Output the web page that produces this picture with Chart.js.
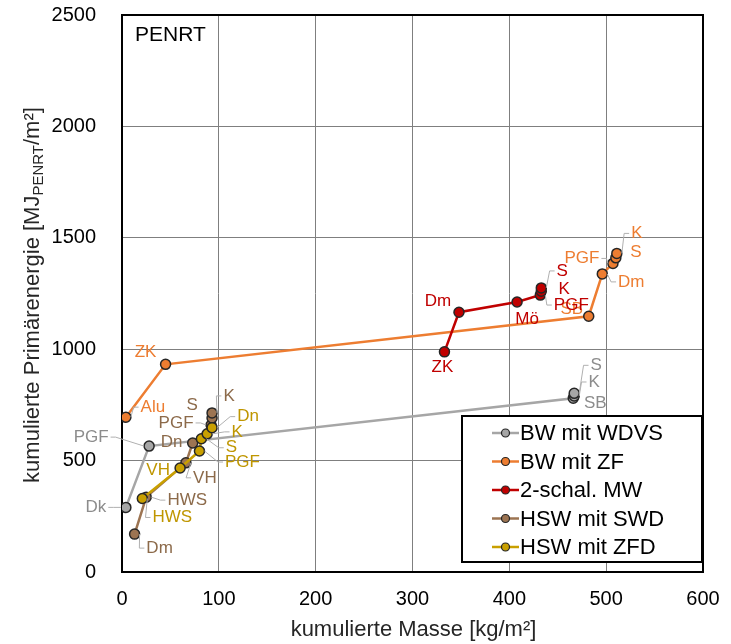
<!DOCTYPE html>
<html>
<head>
<meta charset="utf-8">
<script src="https://cdn.jsdelivr.net/npm/chart.js@4.4.0/dist/chart.umd.min.js"></script>
<style>
  body { margin: 0; background: #fff; }
  canvas { display: block; }
</style>
</head>
<body>
<canvas id="chart" width="731" height="644"></canvas>
<script>
// series names (legend order)
const seriesNames = ["BW mit WDVS", "BW mit ZF", "2-schal. MW", "HSW mit SWD", "HSW mit ZFD"];

// BW mit WDVS
const wdvsMass   = [4, 28, 466, 467, 467];
const wdvsEnergy = [290, 565, 780, 790, 802];
const wdvsLabels = ["Dk", "PGF", "SB", "K", "S"];

// BW mit ZF
const zfMass   = [4, 45, 482, 496, 507, 510, 511];
const zfEnergy = [695, 932, 1148, 1338, 1385, 1410, 1430];
const zfLabels = ["Alu", "ZK", "SB", "Dm", "PGF", "S", "K"];

// 2-schal. MW
const mwMass   = [333, 348, 408, 432, 433, 433];
const mwEnergy = [988, 1166, 1212, 1243, 1260, 1275];
const mwLabels = ["ZK", "Dm", "Mö", "PGF", "K", "S"];

// HSW mit SWD
const swdMass   = [13, 25, 66, 73, 92, 93, 93];
const swdEnergy = [170, 336, 490, 579, 660, 691, 714];
const swdLabels = ["Dm", "HWS", "VH", "Dn", "PGF", "S", "K"];

// HSW mit ZFD
const zfdMass   = [21, 60, 80, 82, 88, 93];
const zfdEnergy = [330, 467, 543, 598, 620, 648];
const zfdLabels = ["HWS", "VH", "PGF", "S", "K", "Dn"];

// axis ticks
const massTicks = [0, 100, 200, 300, 400, 500, 600];
const energyTicks = [0, 500, 1000, 1500, 2000, 2500];

// styling
const lineColors  = ["#a6a6a6", "#ed7d31", "#c00000", "#9c7452", "#c9a000"];
const pointColors = ["#a6a6a6", "#ed7d31", "#c00000", "#9c7452", "#c9a000"];
const textColors  = ["#8c8c8c", "#ed7d31", "#c00000", "#8c6a4a", "#bf9600"];

// label offsets in px from the point (text centre)
const labelOffsets = [
  [[-30, 0], [-58, -9], [22, 5], [20, -14], [22, -28]],
  [[27, -10], [-20, -12], [-17, -7], [29, 8], [-31, -5], [20, -6], [20, -20]],
  [[-2, 15], [-21, -11], [10, 17], [31, 10], [23, -2], [21, -17]],
  [[25, 14], [41, 3], [19, 15], [-21, -1], [-35, -2], [-20, -13], [17, -17]],
  [[30, 19], [-22, 2], [43, 11], [30, 9], [30, -2], [36, -11]]
];

const FONT = "'Liberation Sans', Arial, sans-serif";

const masses = [wdvsMass, zfMass, mwMass, swdMass, zfdMass];
const energies = [wdvsEnergy, zfEnergy, mwEnergy, swdEnergy, zfdEnergy];
const pointLabels = [wdvsLabels, zfLabels, mwLabels, swdLabels, zfdLabels];

const datasets = seriesNames.map((name, i) => ({
  label: name,
  data: masses[i].map((m, j) => ({ x: m, y: energies[i][j] })),
  showLine: true,
  borderColor: lineColors[i],
  borderWidth: 2.5,
  backgroundColor: pointColors[i],
  pointBackgroundColor: pointColors[i],
  pointBorderColor: "#262626",
  pointBorderWidth: 1.5,
  pointRadius: 5,
  order: 5 - i
}));

const framePlugin = {
  id: "frame",
  beforeDatasetsDraw(chart) {
    const { ctx, chartArea: a } = chart;
    ctx.save();
    ctx.strokeStyle = "#000";
    ctx.lineWidth = 2;
    ctx.strokeRect(a.left, a.top, a.right - a.left, a.bottom - a.top);
    ctx.restore();
  }
};

const labelPlugin = {
  id: "pointLabels",
  afterDatasetsDraw(chart) {
    const ctx = chart.ctx;
    ctx.save();
    ctx.font = "17px " + FONT;
    ctx.textAlign = "center";
    ctx.textBaseline = "middle";
    seriesNames.forEach((_, i) => {
      const meta = chart.getDatasetMeta(i);
      meta.data.forEach((pt, j) => {
        const [dx, dy] = labelOffsets[i][j];
        const tx = pt.x + dx, ty = pt.y + dy;
        const text = pointLabels[i][j];
        const w = ctx.measureText(text).width;
        if (Math.hypot(dx, dy) > 24) {
          // leader line
          const side = dx >= 0 ? tx - w / 2 - 2 : tx + w / 2 + 2;
          const knee = dx >= 0 ? side - 5 : side + 5;
          ctx.strokeStyle = "#b0b0b0";
          ctx.lineWidth = 1;
          ctx.beginPath();
          ctx.moveTo(side, ty);
          ctx.lineTo(knee, ty);
          ctx.lineTo(pt.x + Math.sign(dx) * 5, pt.y);
          ctx.stroke();
        }
        ctx.fillStyle = textColors[i];
        ctx.fillText(text, tx, ty);
      });
    });
    ctx.restore();
  }
};

const decorPlugin = {
  id: "decor",
  afterDraw(chart) {
    const { ctx, chartArea: a } = chart;
    ctx.save();
    // panel tag
    ctx.fillStyle = "#000";
    ctx.font = "21px " + FONT;
    ctx.textAlign = "left";
    ctx.textBaseline = "middle";
    ctx.fillText("PENRT", a.left + 13, a.top + 20);

    // x title
    ctx.fillStyle = "#262626";
    ctx.font = "22px " + FONT;
    ctx.textAlign = "center";
    ctx.fillText("kumulierte Masse [kg/m²]", (a.left + a.right) / 2 + 1, 630);

    // y title with subscript
    ctx.translate(33, 295);
    ctx.rotate(-Math.PI / 2);
    const parts = [["kumulierte Primärenergie [MJ", 22, 0], ["PENRT", 15, 6], ["/m²]", 22, 0]];
    let total = 0;
    parts.forEach(p => { ctx.font = p[1] + "px " + FONT; total += ctx.measureText(p[0]).width; });
    let x = -total / 2;
    ctx.textAlign = "left";
    parts.forEach(p => {
      ctx.font = p[1] + "px " + FONT;
      ctx.fillText(p[0], x, p[2]);
      x += ctx.measureText(p[0]).width;
    });
    ctx.restore();

    // legend box
    ctx.save();
    const bx = 462, by = 416, bw = 240, bh = 146;
    ctx.fillStyle = "#fff";
    ctx.fillRect(bx, by, bw, bh);
    ctx.strokeStyle = "#000";
    ctx.lineWidth = 2;
    ctx.strokeRect(bx, by, bw, bh);
    ctx.font = "22px " + FONT;
    ctx.textBaseline = "middle";
    ctx.textAlign = "left";
    seriesNames.forEach((name, i) => {
      const y = by + 17 + i * 28.5;
      ctx.strokeStyle = lineColors[i];
      ctx.lineWidth = 2.5;
      ctx.beginPath();
      ctx.moveTo(492, y);
      ctx.lineTo(519, y);
      ctx.stroke();
      ctx.beginPath();
      ctx.arc(505.5, y, 4, 0, Math.PI * 2);
      ctx.fillStyle = pointColors[i];
      ctx.fill();
      ctx.strokeStyle = "#262626";
      ctx.lineWidth = 1.2;
      ctx.stroke();
      ctx.fillStyle = "#000";
      ctx.fillText(name, 520, y + 1);
    });
    ctx.restore();
  }
};

new Chart(document.getElementById("chart"), {
  type: "scatter",
  data: { datasets },
  options: {
    responsive: false,
    animation: false,
    devicePixelRatio: 1,
    layout: { padding: { top: 15, right: 28, left: 0, bottom: 0 } },
    plugins: {
      legend: { display: false },
      tooltip: { enabled: false }
    },
    scales: {
      x: {
        type: "linear",
        min: massTicks[0],
        max: massTicks[massTicks.length - 1],
        afterBuildTicks: s => { s.ticks = massTicks.map(v => ({ value: v })); },
        afterFit: s => { s.height = 72; s.paddingLeft = 0; s.paddingRight = 0; },
        ticks: { color: "#000", font: { family: FONT, size: 20 }, padding: 15, callback: v => String(v) },
        grid: { color: "#7f7f7f", lineWidth: 1, drawTicks: false },
        border: { display: false }
      },
      y: {
        type: "linear",
        min: energyTicks[0],
        max: energyTicks[energyTicks.length - 1],
        afterBuildTicks: s => { s.ticks = energyTicks.map(v => ({ value: v })); },
        afterFit: s => { s.width = 122; s.paddingTop = 0; s.paddingBottom = 0; },
        ticks: { color: "#000", font: { family: FONT, size: 20 }, padding: 26, callback: v => String(v) },
        grid: { color: "#7f7f7f", lineWidth: 1, drawTicks: false },
        border: { display: false }
      }
    }
  },
  plugins: [framePlugin, labelPlugin, decorPlugin]
});
</script>
</body>
</html>
